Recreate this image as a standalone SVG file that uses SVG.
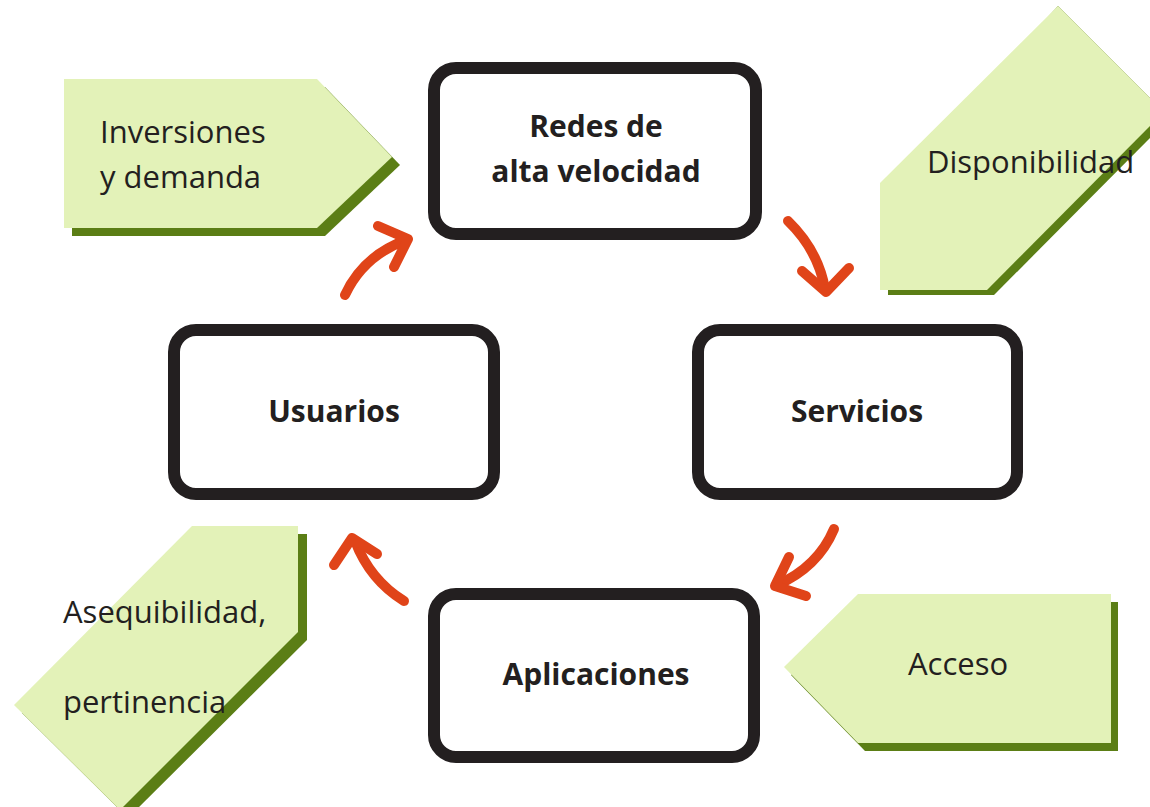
<svg xmlns="http://www.w3.org/2000/svg" width="1150" height="807" viewBox="0 0 1150 807">
<style>
.light{fill:#e3f2b8;}
.dark{fill:#5b7e15;}
.box{fill:#ffffff;stroke:#231f20;stroke-width:12;}
.lbl{font-family:"Open Sans","Noto Sans",sans-serif;font-size:31px;fill:#231f20;}
.blbl{font-family:"Open Sans","Noto Sans",sans-serif;font-size:30px;font-weight:bold;fill:#231f20;text-anchor:middle;}
.arr{fill:none;stroke:#e04419;stroke-width:10;stroke-linecap:round;stroke-linejoin:round;}
</style>
<rect x="0" y="0" width="1150" height="807" fill="#ffffff"/>

<g id="tag-inversiones">
<polygon class="dark" points="72,87 325,87 400,165 325,236 72,236"/>
<polygon class="light" points="64,79 317,79 392,157 317,228 64,228"/>
<text class="lbl" x="100" y="143">Inversiones</text>
<text class="lbl" x="100" y="188">y demanda</text>
</g>

<g id="tag-disponibilidad">
<polygon class="dark" points="1058,6 1170,118 994,295 888,295 888,190"/>
<polygon class="light" points="1058,6 1164,112 987,290 880,290 880,183"/>
<text class="lbl" x="927" y="173">Disponibilidad</text>
</g>

<g id="tag-asequibilidad">
<polygon class="dark" points="200,534 307,534 307,640 128,818 22,713"/>
<polygon class="light" points="192,526 298,526 298,632 120,810 14,705"/>
<text class="lbl" x="63" y="623">Asequibilidad,</text>
<text class="lbl" x="63" y="713">pertinencia</text>
</g>

<g id="tag-acceso">
<polygon class="dark" points="865,602 1118,602 1118,751 865,751 791,675"/>
<polygon class="light" points="858,594 1111,594 1111,743 858,743 784,667"/>
<text class="lbl" x="908" y="675">Acceso</text>
</g>

<g id="node-redes">
<rect class="box" x="434" y="68" width="322" height="166" rx="22" ry="22"/>
<text class="blbl" x="596" y="137">Redes de</text>
<text class="blbl" x="596" y="182">alta velocidad</text>
</g>

<g id="node-usuarios">
<rect class="box" x="174" y="330" width="320" height="164" rx="22" ry="22"/>
<text class="blbl" x="334" y="422">Usuarios</text>
</g>

<g id="node-servicios">
<rect class="box" x="698" y="330" width="319" height="164" rx="22" ry="22"/>
<text class="blbl" x="857" y="422">Servicios</text>
</g>

<g id="node-aplicaciones">
<rect class="box" x="434" y="594" width="320" height="163" rx="22" ry="22"/>
<text class="blbl" x="596" y="685">Aplicaciones</text>
</g>

<g id="connectors">
<path class="arr" d="M345,295 Q363,256 406,240"/>
<path class="arr" d="M378,226 L408,239 L394,267"/>
<path class="arr" d="M788,221 Q818,250 825,289"/>
<path class="arr" d="M802,271 L826,292 L849,268"/>
<path class="arr" d="M834,529 Q818,567 777,585"/>
<path class="arr" d="M789,557 L775,586 L806,596"/>
<path class="arr" d="M404,601 Q370,580 355,541"/>
<path class="arr" d="M334,565 L352,538 L377,554"/>
</g>
</svg>
